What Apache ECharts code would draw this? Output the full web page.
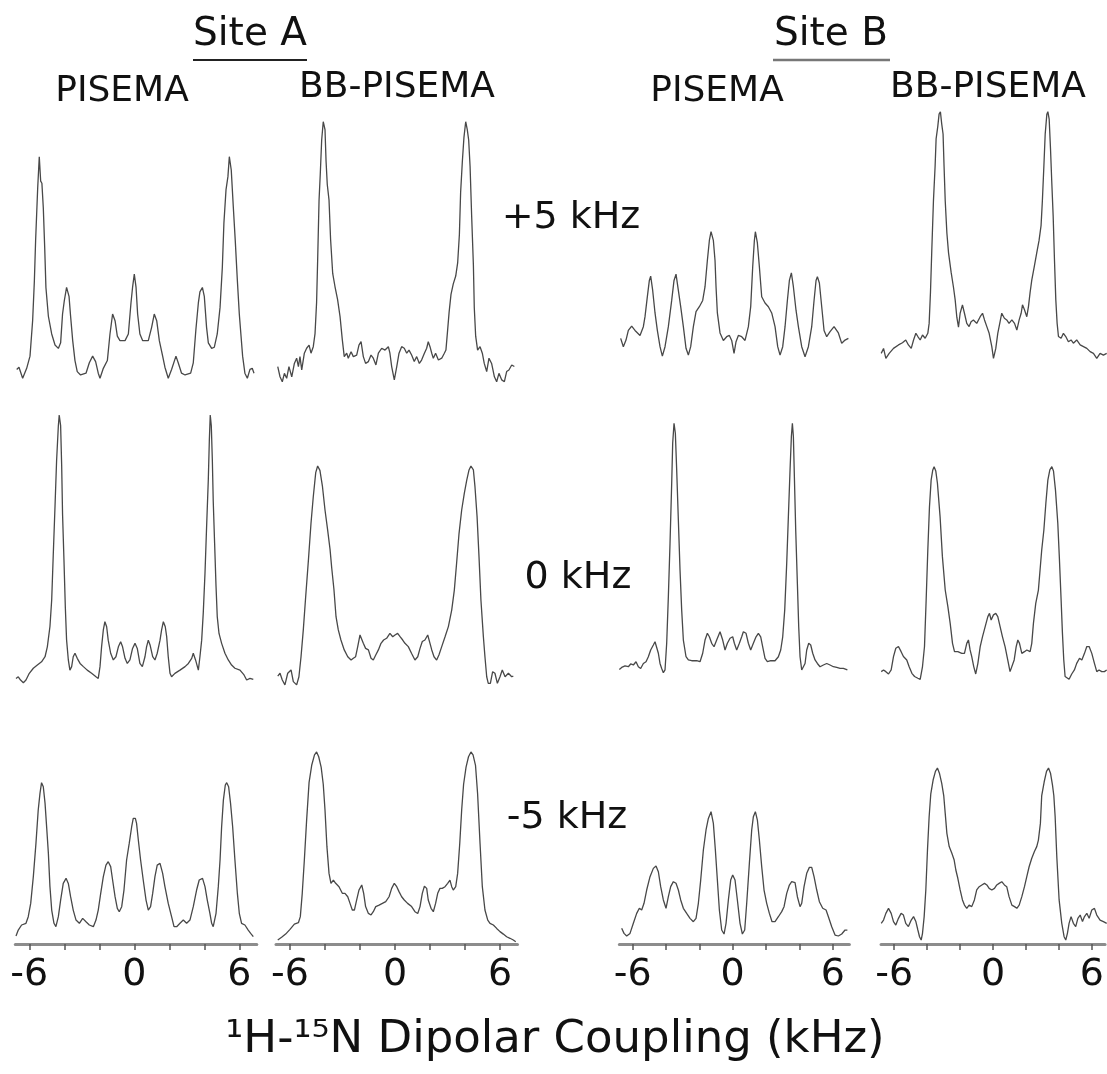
<!DOCTYPE html>
<html><head><meta charset="utf-8">
<script src="https://cdn.jsdelivr.net/npm/echarts@6/dist/echarts.min.js"></script>
<style>html,body{margin:0;padding:0;background:#fff}#c{width:1107px;height:1074px}</style>
</head><body><div id="c"></div>
<script>
// ---- tick labels ----
const xTickValues = [-6, -4, -2, 0, 2, 4, 6];
const xLabelValues = [-6, 0, 6];
const axisTitle = '\u00b9H-\u00b9\u2075N Dipolar Coupling (kHz)';
const siteNames = ['Site A', 'Site B'];
const methodNames = ['PISEMA', 'BB-PISEMA', 'PISEMA', 'BB-PISEMA'];
const offsetNames = ['+5 kHz', '0 kHz', '-5 kHz'];

// ---- spectra: [dipolar coupling kHz, relative intensity] ----
const A_PISEMA_p5 = [[-6.72,4],[-6.59,5],[-6.38,0],[-6.15,4.5],[-5.96,10],[-5.81,26],[-5.71,44],[-5.64,62],[-5.58,74],[-5.52,86],[-5.43,100],[-5.35,89],[-5.28,88],[-5.2,77],[-5.12,59],[-5.05,41],[-4.91,28],[-4.72,20],[-4.53,15],[-4.34,13.5],[-4.21,16],[-4.1,29],[-4,35],[-3.87,41],[-3.73,37],[-3.64,28],[-3.52,17],[-3.39,8],[-3.26,3],[-3.07,1.5],[-2.76,2.3],[-2.57,7],[-2.38,10],[-2.21,7.5],[-2.06,2.3],[-1.96,0],[-1.77,4.5],[-1.54,8],[-1.39,20],[-1.24,29],[-1.1,26],[-0.97,19],[-0.82,17],[-0.53,17],[-0.34,20],[-0.19,34],[-0.1,41],[0,47],[0.1,41],[0.19,29],[0.32,20],[0.48,17],[0.8,17],[0.99,23],[1.14,29],[1.28,26],[1.43,17],[1.62,10],[1.75,5],[1.94,0],[2.13,4],[2.38,10],[2.51,7],[2.7,2.3],[2.9,1.5],[3.22,2.3],[3.37,7],[3.52,22],[3.66,34],[3.75,39],[3.89,41],[4,37],[4.13,23],[4.23,16],[4.42,13.5],[4.57,14],[4.74,20],[4.9,32],[5.03,50],[5.12,70],[5.24,85],[5.35,91],[5.43,100],[5.54,94],[5.66,77],[5.77,62],[5.89,44],[6,29],[6.1,19],[6.19,10],[6.32,2.3],[6.46,0],[6.61,4],[6.74,4.5],[6.84,2.3]];
const A_BB_p5 = [[-6.7,6.4],[-6.57,2.5],[-6.44,0.6],[-6.32,3.8],[-6.19,1.9],[-6.06,6.4],[-5.9,2.5],[-5.75,7.6],[-5.62,9.6],[-5.52,6.4],[-5.43,10.2],[-5.33,5.1],[-5.18,11.5],[-5.05,13.4],[-4.91,14.6],[-4.8,11.5],[-4.67,14],[-4.57,19],[-4.48,31],[-4.42,47],[-4.34,70],[-4.27,80],[-4.19,93],[-4.1,100],[-4,97],[-3.94,85],[-3.87,76],[-3.77,70],[-3.68,55],[-3.56,42],[-3.43,37],[-3.28,32],[-3.14,25.5],[-3.01,16.6],[-2.9,10.2],[-2.76,11.5],[-2.67,9.6],[-2.51,12.1],[-2.38,10.2],[-2.19,10.8],[-2.06,14.6],[-1.94,15.9],[-1.81,10.2],[-1.68,7.6],[-1.52,8.3],[-1.37,10.8],[-1.24,9.6],[-1.09,7],[-0.95,11.5],[-0.76,13.4],[-0.57,12.7],[-0.38,14],[-0.29,11.5],[-0.19,6.4],[-0.04,1.3],[0.1,6.4],[0.23,11.5],[0.38,14],[0.53,13.4],[0.67,11.5],[0.8,12.7],[0.95,10.8],[1.1,8.3],[1.24,10.2],[1.39,7.6],[1.52,8.9],[1.68,11.5],[1.81,13.4],[1.9,15.9],[2,14],[2.1,11.5],[2.19,9.6],[2.32,11.5],[2.48,8.9],[2.67,9.6],[2.82,11.5],[2.91,12.7],[2.99,19],[3.09,27],[3.2,34],[3.33,38],[3.47,41],[3.58,46],[3.68,57],[3.75,73],[3.85,85],[3.94,94],[4.04,100],[4.13,97],[4.21,93],[4.29,83],[4.38,64],[4.48,45],[4.53,29],[4.61,18],[4.72,12.7],[4.86,14],[4.99,11.5],[5.1,7.6],[5.24,4.5],[5.37,9.6],[5.52,7.6],[5.68,2.5],[5.81,0.6],[5.94,3.8],[6.1,1.3],[6.25,0.6],[6.38,4.5],[6.51,5.1],[6.67,7],[6.82,6.4]];
const B_PISEMA_p5 = [[-6.72,14.7],[-6.56,8],[-6.4,13.3],[-6.26,21],[-6.06,24.5],[-5.86,21],[-5.56,17],[-5.36,24],[-5.26,32],[-5.12,48],[-5,61],[-4.92,64.5],[-4.8,53],[-4.66,35],[-4.52,21],[-4.36,8],[-4.22,0.5],[-4.06,8],[-3.86,24],[-3.66,45],[-3.52,61],[-3.4,66],[-3.26,53],[-3.12,40],[-2.96,24],[-2.8,6.7],[-2.66,1.3],[-2.52,8],[-2.36,24],[-2.2,36],[-2,40],[-1.8,45],[-1.66,56],[-1.52,77],[-1.4,93],[-1.3,100],[-1.16,93],[-1.06,77],[-1,56],[-0.92,35],[-0.76,19],[-0.56,13],[-0.36,16],[-0.2,17],[-0.06,13],[0.08,2.7],[0.2,12],[0.34,17],[0.54,16],[0.74,13],[0.94,24],[1.08,40],[1.2,72],[1.3,93],[1.36,100],[1.48,91],[1.6,72],[1.74,48],[1.94,43],[2.14,40],[2.34,35],[2.54,24],[2.7,8],[2.84,1.3],[3,8],[3.14,24],[3.28,45],[3.4,61],[3.52,67],[3.64,56],[3.8,37],[3.94,24],[4.14,8],[4.34,0],[4.54,8],[4.74,24],[4.88,45],[5,61],[5.08,64],[5.2,59],[5.34,40],[5.48,21],[5.64,16],[5.84,20],[6.08,24],[6.34,19],[6.54,10.7],[6.74,13.3],[6.94,14.7]];
const B_BB_p5 = [[-6.79,2.4],[-6.65,4.4],[-6.51,0.4],[-6.31,2.4],[-6.05,4.4],[-5.75,5.8],[-5.51,6.7],[-5.31,7.8],[-5.15,5.8],[-4.98,4.4],[-4.84,7.8],[-4.7,10.5],[-4.58,9.2],[-4.44,7.8],[-4.3,9.8],[-4.14,8.5],[-3.98,10.5],[-3.9,14.5],[-3.82,27],[-3.74,44],[-3.64,64],[-3.54,78],[-3.48,89],[-3.38,94],[-3.3,99],[-3.22,100],[-3.14,95],[-3.06,91],[-3,78],[-2.93,64],[-2.83,51],[-2.73,43],[-2.57,35],[-2.43,29],[-2.33,24],[-2.23,17],[-2.13,13],[-2.03,18.6],[-1.89,22],[-1.77,18.6],[-1.63,14.5],[-1.49,13.2],[-1.37,15.2],[-1.23,15.9],[-1.03,14.5],[-0.82,17.2],[-0.68,18.6],[-0.56,15.9],[-0.42,13.2],[-0.28,10.5],[-0.12,5.1],[-0.02,0.4],[0.12,4.4],[0.24,10.5],[0.38,15.2],[0.48,18.6],[0.64,16.6],[0.78,15.9],[0.92,14.5],[1.09,15.9],[1.25,14.5],[1.39,11.8],[1.53,15.9],[1.65,18.6],[1.73,22],[1.85,20],[1.99,17.2],[2.09,21.3],[2.19,27],[2.29,32],[2.43,37],[2.59,43],[2.73,48],[2.85,54],[2.93,64],[3.02,78],[3.1,91],[3.2,99],[3.26,100],[3.34,97],[3.42,85],[3.5,71],[3.58,58],[3.66,40],[3.74,24],[3.82,14.5],[3.9,9.2],[4.06,8.5],[4.2,10.5],[4.34,9.2],[4.5,7.1],[4.66,7.8],[4.8,6.5],[5,7.8],[5.21,5.8],[5.41,5.1],[5.61,4.4],[5.81,3.1],[6.01,2.4],[6.21,0.4],[6.41,2.4],[6.61,1.7],[6.81,2.4]];

const A_PISEMA_0 = [[-6.76,1.6],[-6.63,2.2],[-6.5,1],[-6.34,0],[-6.19,1],[-6,3.5],[-5.77,5.4],[-5.54,6.6],[-5.3,7.8],[-5.1,9.7],[-4.97,13.4],[-4.82,21],[-4.72,31],[-4.63,48],[-4.53,66],[-4.44,83],[-4.34,96],[-4.29,100],[-4.21,96],[-4.15,81],[-4.1,63],[-4.02,46],[-3.94,28],[-3.87,16],[-3.77,8.5],[-3.68,4.7],[-3.58,6],[-3.49,9.7],[-3.39,11],[-3.26,9.1],[-3.1,7.2],[-2.91,6],[-2.69,4.7],[-2.44,3.5],[-2.19,2.2],[-2.06,1.6],[-1.96,6],[-1.87,13.4],[-1.77,19.7],[-1.68,22.8],[-1.58,20.9],[-1.49,15.9],[-1.35,11],[-1.2,8.5],[-1.05,9.7],[-0.91,13.4],[-0.78,15.3],[-0.67,13.4],[-0.53,9.1],[-0.4,7.2],[-0.25,8.5],[-0.1,12.8],[0.04,14.7],[0.17,12.8],[0.32,7.2],[0.46,6],[0.61,9.7],[0.7,13.4],[0.8,15.9],[0.9,14.1],[1.05,9.7],[1.18,8.5],[1.31,11],[1.47,15.9],[1.56,19.7],[1.66,22.8],[1.77,20.9],[1.85,17.2],[1.94,9.7],[2.04,3.5],[2.13,2.2],[2.32,3.5],[2.61,4.7],[2.9,6],[3.09,7.2],[3.28,9.1],[3.37,11],[3.5,8.5],[3.66,4.7],[3.75,9.7],[3.85,15.9],[3.94,26],[4.04,41],[4.13,58],[4.23,76],[4.29,91],[4.34,100],[4.4,96],[4.46,83],[4.51,68],[4.59,52],[4.67,36],[4.74,24.7],[4.84,18.4],[4.99,14.7],[5.18,11],[5.37,8.5],[5.56,6.6],[5.75,5.4],[6.04,4.7],[6.27,2.9],[6.42,1],[6.61,1.6],[6.8,1.2]];
const A_BB_0 = [[-6.7,4.5],[-6.57,5.8],[-6.44,2.7],[-6.29,0.5],[-6.13,5.8],[-5.94,7.3],[-5.81,2],[-5.62,0.5],[-5.49,4.2],[-5.37,13.3],[-5.24,25.5],[-5.1,41],[-4.95,57],[-4.8,74],[-4.67,86],[-4.53,97],[-4.42,100],[-4.29,98],[-4.15,91],[-4,80],[-3.85,71],[-3.71,62],[-3.62,54],[-3.49,44],[-3.37,31.5],[-3.24,25.5],[-3.09,20.9],[-2.9,16.4],[-2.7,13.3],[-2.51,11.8],[-2.38,12.6],[-2.25,13.3],[-2.13,17.9],[-2,23.2],[-1.9,22.4],[-1.81,19.4],[-1.68,17.1],[-1.52,16.4],[-1.37,12.6],[-1.24,11.8],[-1.1,14.1],[-0.95,16.4],[-0.8,19.4],[-0.65,20.9],[-0.48,21.7],[-0.29,23.9],[-0.13,22.4],[0,23.2],[0.15,23.9],[0.29,22.4],[0.44,20.9],[0.57,19.4],[0.76,17.9],[0.95,14.8],[1.14,11.8],[1.3,13.3],[1.43,17.1],[1.56,20.2],[1.71,20.9],[1.87,23.2],[2,19.4],[2.1,16.4],[2.23,13.3],[2.38,11.8],[2.51,14.1],[2.67,17.9],[2.86,22.4],[3.05,27],[3.24,34.5],[3.39,43.6],[3.52,55.8],[3.66,69.4],[3.81,80],[3.96,87.6],[4.1,93.6],[4.23,98.2],[4.34,100],[4.48,98.2],[4.57,90.6],[4.69,77],[4.8,58.8],[4.91,39.1],[5.05,22.4],[5.14,13.3],[5.24,4.2],[5.33,1.2],[5.45,1.2],[5.58,6.5],[5.71,5.8],[5.85,1.2],[6,4.2],[6.13,7.3],[6.29,4.2],[6.48,5.8],[6.67,4.2],[6.76,4.5]];
const B_PISEMA_0 = [[-6.8,1.3],[-6.66,2.1],[-6.46,2.7],[-6.26,2.4],[-6.12,3.5],[-5.96,3.1],[-5.8,4.4],[-5.66,2.4],[-5.52,1.7],[-5.36,3.7],[-5.2,4.4],[-5.06,6.4],[-4.92,9.1],[-4.76,11.1],[-4.66,12.4],[-4.56,11.8],[-4.46,7.8],[-4.36,3.7],[-4.26,1.7],[-4.16,0],[-4.06,1.1],[-3.96,11.8],[-3.86,30.5],[-3.76,51.9],[-3.66,75.9],[-3.6,92],[-3.52,100],[-3.44,96],[-3.36,81.3],[-3.26,61.2],[-3.16,41.2],[-3.06,25.1],[-2.96,13.1],[-2.8,6.4],[-2.66,5.1],[-2.46,4.8],[-2.16,4.8],[-1.96,4.4],[-1.8,7.8],[-1.66,13.1],[-1.52,15.8],[-1.4,14.4],[-1.26,11.8],[-1.12,10.4],[-0.96,13.1],[-0.76,16.4],[-0.6,13.1],[-0.46,9.1],[-0.32,11.8],[-0.16,13.8],[0,14.4],[0.1,11.8],[0.24,9.1],[0.4,11.8],[0.54,14.4],[0.64,16.4],[0.8,15.8],[0.94,11.8],[1.08,9.1],[1.24,11.8],[1.4,14.4],[1.54,15.8],[1.68,14.4],[1.8,10.4],[1.94,5.7],[2.08,4.4],[2.28,4.8],[2.54,4.8],[2.74,6.4],[2.88,9.1],[3,14.4],[3.12,25.1],[3.24,43.9],[3.34,62.6],[3.44,81.3],[3.52,94.7],[3.58,100],[3.64,94.7],[3.7,78.6],[3.78,57.2],[3.88,35.8],[3.96,18.4],[4.04,6.4],[4.14,1.1],[4.24,0.4],[4.34,3.7],[4.44,9.1],[4.56,11.8],[4.68,11.1],[4.8,7.8],[4.94,5.1],[5.08,3.7],[5.24,2.4],[5.44,3.1],[5.64,3.7],[5.84,3.1],[6.04,2.4],[6.24,2.1],[6.44,1.7],[6.64,1.7],[6.88,1.1]];
const B_BB_0 = [[-6.79,3.6],[-6.65,4.4],[-6.51,3.6],[-6.35,2.5],[-6.19,4.4],[-6.05,10.7],[-5.91,14.6],[-5.75,15.4],[-5.59,13],[-5.45,10.7],[-5.25,9.1],[-5.11,6],[-4.94,2.8],[-4.78,1.3],[-4.58,0.5],[-4.44,0],[-4.3,6],[-4.18,15.4],[-4.08,37.3],[-3.98,60.8],[-3.88,81.2],[-3.78,93.7],[-3.68,98.5],[-3.6,100],[-3.5,98],[-3.4,92.2],[-3.24,76.5],[-3.1,57.7],[-2.93,42],[-2.77,34.2],[-2.63,26.3],[-2.49,16.9],[-2.37,13],[-2.17,13],[-1.93,12.2],[-1.77,12.2],[-1.63,16.9],[-1.53,18.5],[-1.43,13.8],[-1.33,10.7],[-1.21,6],[-1.09,2.5],[-0.96,7.5],[-0.82,15.4],[-0.68,20.1],[-0.52,24.8],[-0.36,29.5],[-0.26,31],[-0.16,27.9],[-0.02,30.3],[0.12,31],[0.24,29.5],[0.38,24.8],[0.52,20.1],[0.68,15.4],[0.84,9.1],[0.98,3.6],[1.09,2.8],[1.23,9.1],[1.35,15.4],[1.45,18.5],[1.55,16.9],[1.69,12.2],[1.85,13],[1.99,13.8],[2.19,13],[2.29,16.9],[2.39,26.3],[2.53,35.7],[2.69,42],[2.79,51.4],[2.89,60.8],[3.02,70.2],[3.14,82.8],[3.26,93.7],[3.38,98.5],[3.5,100],[3.6,98],[3.72,89],[3.86,73.4],[3.96,56.1],[4.06,37.3],[4.14,21.6],[4.22,9.1],[4.3,1.3],[4.42,0.5],[4.54,0],[4.7,2.5],[4.86,4.4],[5,7.5],[5.17,9.9],[5.31,9.1],[5.47,12.2],[5.61,15.4],[5.75,15.4],[5.91,12.2],[6.07,7.5],[6.21,3.6],[6.35,4.4],[6.51,3.6],[6.67,3.6],[6.81,4.4]];

const A_PISEMA_m5 = [[-6.76,0.4],[-6.63,4.3],[-6.44,7.6],[-6.19,8.7],[-6.06,13],[-5.92,21.6],[-5.77,39],[-5.62,60.6],[-5.49,82.3],[-5.39,93.1],[-5.3,100],[-5.2,97.4],[-5.1,86.6],[-5.01,71.4],[-4.91,54.1],[-4.82,32.5],[-4.72,17.3],[-4.59,8.7],[-4.48,6.5],[-4.34,13],[-4.21,23.8],[-4.06,34.6],[-3.9,37.9],[-3.77,34.6],[-3.64,26],[-3.49,17.3],[-3.33,10.8],[-3.14,8.7],[-2.95,11.9],[-2.76,9.7],[-2.57,7.6],[-2.34,6.5],[-2.19,10.8],[-2.06,17.3],[-1.92,28.1],[-1.77,39],[-1.62,46.5],[-1.49,48.7],[-1.35,45.5],[-1.24,36.8],[-1.1,26],[-0.97,18.4],[-0.86,16.2],[-0.72,19.5],[-0.59,30.3],[-0.44,49.8],[-0.29,60.6],[-0.15,71.4],[-0.06,76.8],[0.06,76.8],[0.13,73.6],[0.23,62.8],[0.36,49.8],[0.51,36.8],[0.67,23.8],[0.8,17.3],[0.93,19.5],[1.05,28.1],[1.18,39],[1.31,46.5],[1.47,47.6],[1.62,41.1],[1.75,32.5],[1.94,21.6],[2.13,13],[2.27,6.5],[2.42,6.5],[2.61,8.7],[2.8,10.8],[2.99,8.7],[3.18,10.8],[3.37,19.5],[3.56,30.3],[3.71,36.8],[3.9,37.9],[4.04,32.5],[4.17,23.8],[4.32,15.2],[4.42,8.7],[4.51,6.5],[4.67,15.2],[4.8,32.5],[4.9,49.8],[4.99,71.4],[5.09,88.7],[5.2,98.5],[5.28,100],[5.39,97.4],[5.5,86.6],[5.62,71.4],[5.75,49.8],[5.89,28.1],[6,15.2],[6.13,8.7],[6.32,7.6],[6.51,4.3],[6.65,2.2],[6.8,0]];
const A_BB_m5 = [[-6.7,0.9],[-6.48,2.3],[-6.25,4],[-6,6.5],[-5.75,9.3],[-5.52,10],[-5.41,13.2],[-5.3,25.5],[-5.18,43.1],[-5.05,64.1],[-4.91,84],[-4.76,93],[-4.6,98.5],[-4.48,100],[-4.36,97.5],[-4.22,92],[-4.1,83],[-4,69.4],[-3.89,50.1],[-3.77,36],[-3.66,30.8],[-3.52,32.5],[-3.39,30.8],[-3.2,29],[-3.01,25.5],[-2.86,25.5],[-2.7,23.7],[-2.57,20.2],[-2.44,16.7],[-2.32,16.7],[-2.19,22],[-2.06,27.2],[-1.9,29.9],[-1.79,25.5],[-1.68,18.5],[-1.52,14.9],[-1.37,14.1],[-1.24,15.8],[-1.1,18.5],[-0.91,19.3],[-0.72,20.2],[-0.53,21.1],[-0.34,23.7],[-0.19,28.1],[-0.04,30.8],[0.1,29],[0.23,26.4],[0.38,23.7],[0.53,22],[0.72,20.2],[0.95,18.5],[1.14,15.8],[1.3,14.9],[1.43,18.5],[1.56,25.5],[1.68,29.3],[1.81,28.1],[1.9,22],[2.06,17.6],[2.19,15.8],[2.32,20.2],[2.44,25.5],[2.57,28.1],[2.7,28.1],[2.86,29],[3.01,30.8],[3.14,32.5],[3.24,29],[3.33,27.2],[3.47,29],[3.58,36],[3.7,51.8],[3.81,69.4],[3.92,83],[4.06,92],[4.2,97.5],[4.34,100],[4.46,98.5],[4.6,93],[4.72,78],[4.86,51.8],[4.99,29],[5.14,16.7],[5.3,11.4],[5.43,9.7],[5.62,8.8],[5.81,7],[6,5.3],[6.19,4],[6.38,2.6],[6.57,1.8],[6.76,0.9],[6.9,0]];
const B_PISEMA_m5 = [[-6.66,6.2],[-6.52,2.1],[-6.36,0],[-6.16,2.1],[-5.96,10.2],[-5.76,18.2],[-5.6,22.3],[-5.46,20.9],[-5.32,26.3],[-5.16,37],[-4.96,47.7],[-4.76,54.4],[-4.6,56.3],[-4.46,51.7],[-4.32,39.7],[-4.16,29],[-4,22.3],[-3.86,31.6],[-3.72,39.7],[-3.56,43.7],[-3.4,42.4],[-3.26,37],[-3.12,29],[-2.96,22.3],[-2.76,18.2],[-2.56,14.2],[-2.36,11.5],[-2.2,14.2],[-2.06,26.3],[-1.92,45],[-1.76,69.2],[-1.6,85.3],[-1.46,94.6],[-1.3,100],[-1.16,90.6],[-1.04,69.2],[-0.92,45],[-0.8,20.9],[-0.66,4.8],[-0.52,1.6],[-0.4,10.2],[-0.26,29],[-0.12,45],[0,49.1],[0.14,45],[0.28,29],[0.44,10.2],[0.58,1.6],[0.72,4.8],[0.84,26.3],[1,58.4],[1.14,85.3],[1.24,96],[1.36,100],[1.48,93.3],[1.6,77.2],[1.74,55.8],[1.88,37],[2.04,26.3],[2.2,18.2],[2.36,11.5],[2.54,11.5],[2.74,15.5],[2.94,19.6],[3.08,23.6],[3.24,34.3],[3.4,41],[3.54,43.7],[3.74,42.9],[3.88,31.6],[4.04,23.6],[4.14,26.3],[4.28,39.7],[4.44,50.4],[4.6,55.2],[4.74,55.2],[4.88,47.7],[5.04,37],[5.2,27.6],[5.4,22.3],[5.6,20.9],[5.74,15.5],[5.94,7.5],[6.14,0.8],[6.34,0],[6.54,1.6],[6.74,4.8],[6.88,4.8]];
const B_BB_m5 = [[-6.79,9.7],[-6.65,11.6],[-6.51,15.5],[-6.35,18.4],[-6.19,15.5],[-6.05,10.7],[-5.91,8.7],[-5.75,12.6],[-5.59,15.5],[-5.45,14.5],[-5.31,9.7],[-5.15,7.8],[-4.98,11.6],[-4.84,13.6],[-4.7,10.7],[-4.58,5.8],[-4.48,1.9],[-4.38,0],[-4.3,3.9],[-4.2,13.6],[-4.1,29.1],[-4,52.3],[-3.9,71.7],[-3.8,85],[-3.66,93],[-3.52,98],[-3.4,100],[-3.28,97],[-3.14,91],[-3.02,84],[-2.93,73.6],[-2.83,62],[-2.69,54.3],[-2.53,50.4],[-2.39,46.5],[-2.29,40.7],[-2.17,35.9],[-2.03,29.1],[-1.89,23.3],[-1.77,20.3],[-1.63,18.4],[-1.49,20.3],[-1.33,19.4],[-1.17,23.3],[-1.03,29.1],[-0.88,31],[-0.72,32],[-0.56,32.9],[-0.42,32],[-0.28,30],[-0.12,29.1],[0.04,30],[0.18,32],[0.32,32.9],[0.48,33.9],[0.64,32],[0.78,31],[0.92,25.2],[1.09,20.3],[1.25,19.4],[1.39,18.4],[1.53,20.3],[1.69,25.2],[1.85,31],[1.99,36.8],[2.13,42.6],[2.29,47.5],[2.45,51.4],[2.59,54.3],[2.69,58.1],[2.81,67.8],[2.89,84],[3.04,92],[3.18,98],[3.3,100],[3.42,97],[3.54,90],[3.62,84],[3.7,71.7],[3.8,48.4],[3.94,23.3],[4.1,9.7],[4.24,1.9],[4.34,0],[4.44,3.9],[4.54,9.7],[4.66,13.6],[4.8,9.7],[4.94,7.8],[5.07,12.6],[5.21,14.5],[5.35,10.7],[5.47,13.6],[5.61,15.5],[5.75,12.6],[5.91,17.4],[6.07,18.4],[6.21,14.5],[6.41,11.6],[6.61,10.7],[6.81,9.7]];

const spectra = [
  [A_PISEMA_p5, A_BB_p5, B_PISEMA_p5, B_BB_p5],
  [A_PISEMA_0, A_BB_0, B_PISEMA_0, B_BB_0],
  [A_PISEMA_m5, A_BB_m5, B_PISEMA_m5, B_BB_m5]
];

// ---- layout (pixels) ----
const colGeom = [
  {zero: 134.3, scale: 17.5, min: -6.8, max: 7.0},
  {zero: 395.0, scale: 17.5, min: -6.8, max: 7.0},
  {zero: 732.7, scale: 16.67, min: -6.8, max: 7.0},
  {zero: 993.8, scale: 16.58, min: -6.8, max: 6.8}
];
// [peak y, baseline y] for each panel
const panelGeom = [
  [[156.7, 378.3], [121.7, 383.3], [231.7, 356.7], [111.7, 359.3]],
  [[415, 682.7], [466, 686], [423.3, 672.7], [466.7, 679.3]],
  [[782.7, 936.7], [752, 941.7], [811.7, 936], [768, 940]]
];
const axisY = 944;
const FONT = '"DejaVu Sans", Verdana, sans-serif';

const grids = [], xAxes = [], yAxes = [], series = [];
for (let r = 0; r < 3; r++) {
  for (let c = 0; c < 4; c++) {
    const g = colGeom[c], p = panelGeom[r][c];
    const idx = grids.length;
    grids.push({left: g.zero + g.min * g.scale, width: (g.max - g.min) * g.scale,
      top: p[0], height: p[1] - p[0], containLabel: false});
    xAxes.push({type: 'value', gridIndex: idx, min: g.min, max: g.max, show: false});
    yAxes.push({type: 'value', gridIndex: idx, min: 0, max: 100, show: false});
    series.push({type: 'line', xAxisIndex: idx, yAxisIndex: idx, data: spectra[r][c],
      showSymbol: false, smooth: false, silent: true, clip: false,
      lineStyle: {color: '#484848', width: 1.3}});
  }
}
// bottom axes
for (let c = 0; c < 4; c++) {
  const g = colGeom[c];
  const idx = grids.length;
  grids.push({left: g.zero + g.min * g.scale, width: (g.max - g.min) * g.scale,
    top: axisY - 1, height: 1});
  xAxes.push({type: 'value', gridIndex: idx, min: g.min, max: g.max, position: 'bottom',
    splitLine: {show: false},
    axisLine: {show: true, onZero: false, lineStyle: {color: '#8c8c8c', width: 3}},
    axisTick: {show: true, customValues: xTickValues, length: 6, lineStyle: {color: '#555', width: 1.5}},
    axisLabel: {show: true, customValues: xLabelValues, fontSize: 38, margin: 12,
      color: '#111', fontFamily: FONT, formatter: v => String(v)}});
  yAxes.push({type: 'value', gridIndex: idx, show: false});
}

function txt(text, x, y, size, extra) {
  return Object.assign({type: 'text', x: x, y: y, silent: true,
    style: {text: text, fontSize: size, fontFamily: FONT, fill: '#111',
      align: 'center', verticalAlign: 'middle'}}, extra || {});
}
const graphics = [
  txt(siteNames[0], 250, 35, 39),
  txt(siteNames[1], 831, 35, 39),
  {type: 'line', silent: true, shape: {x1: 193, y1: 60, x2: 307, y2: 60}, style: {stroke: '#222', lineWidth: 2}},
  {type: 'line', silent: true, shape: {x1: 773, y1: 60, x2: 890, y2: 60}, style: {stroke: '#777', lineWidth: 2.5}},
  txt(methodNames[0], 122, 92, 36),
  txt(methodNames[1], 397, 88, 36),
  txt(methodNames[2], 717, 92, 36),
  txt(methodNames[3], 988, 88, 36),
  txt(offsetNames[0], 571, 218, 38),
  txt(offsetNames[1], 578, 578, 38),
  txt(offsetNames[2], 567, 818, 38),
  txt(axisTitle, 555, 1040, 45)
];

const chart = echarts.init(document.getElementById('c'), null, {renderer: 'canvas'});
chart.setOption({
  animation: false,
  backgroundColor: '#fff',
  grid: grids, xAxis: xAxes, yAxis: yAxes, series: series,
  graphic: graphics
});
</script></body></html>
